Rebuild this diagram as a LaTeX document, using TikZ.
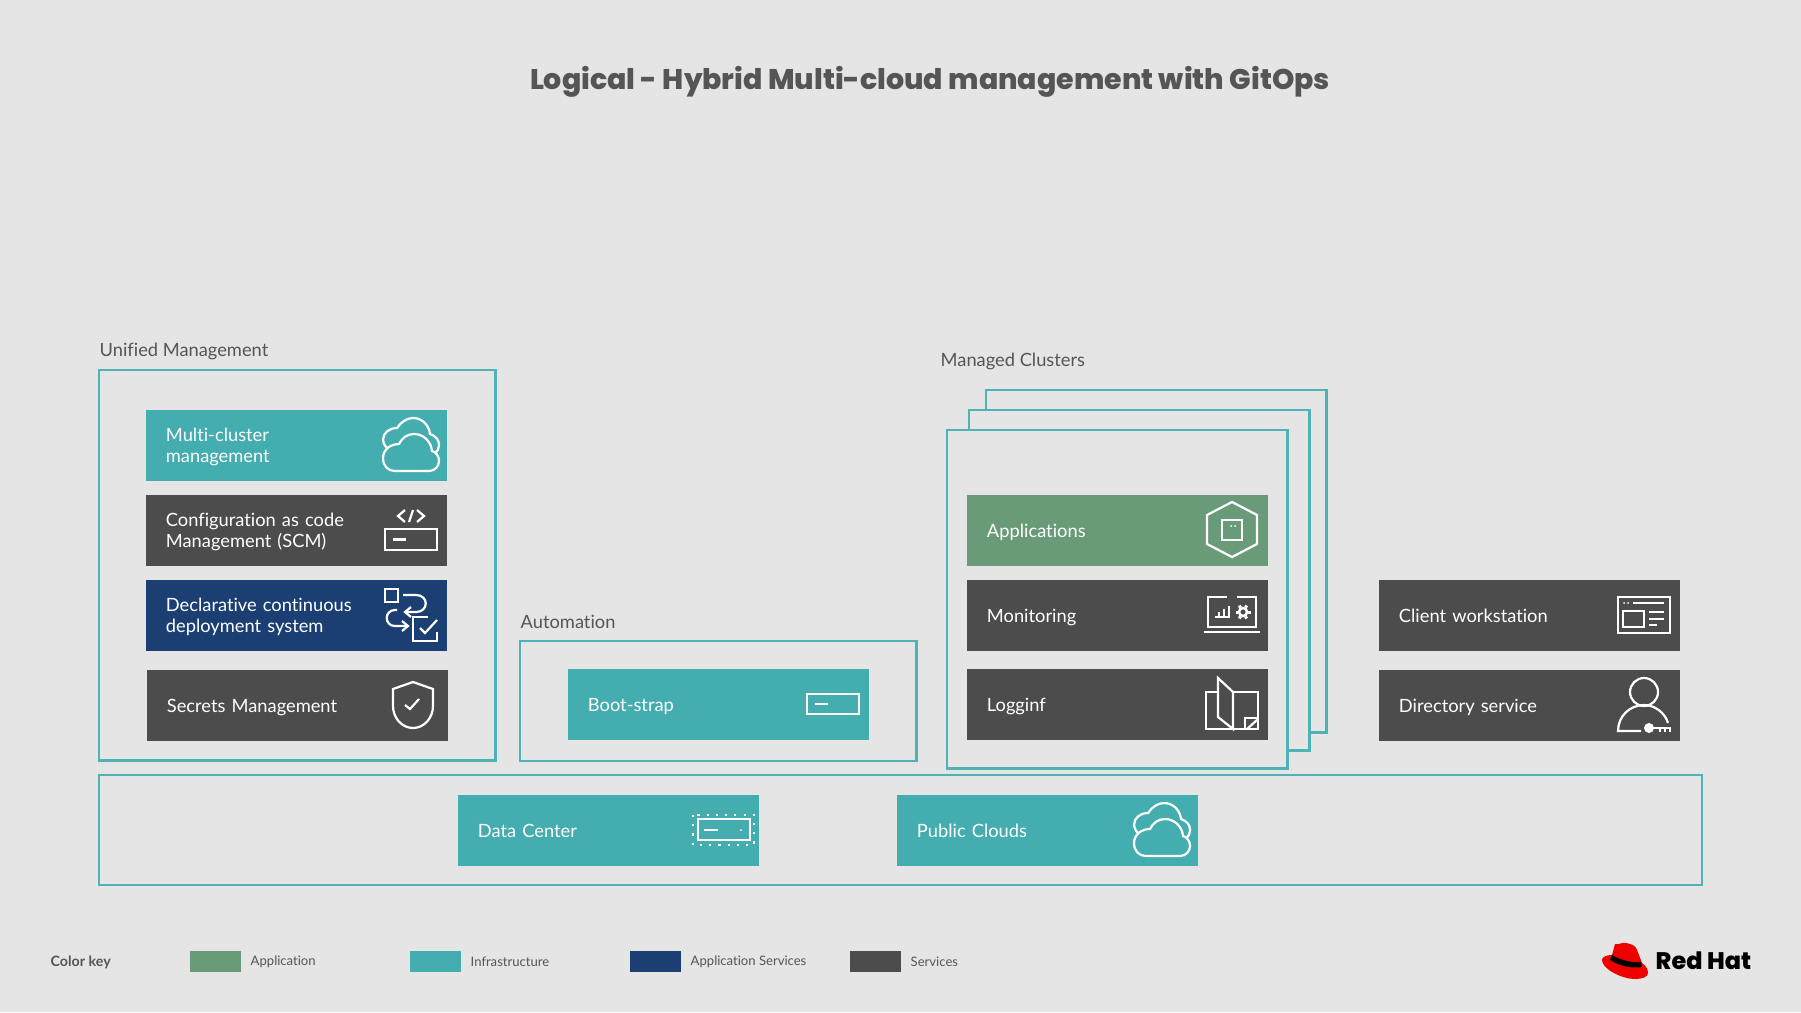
\documentclass[tikz,border=0pt]{standalone}
\usepackage{fontspec}
\setmainfont[Ligatures=NoCommon]{Lato}
\newfontfamily\headfont[BoldFont={Poppins ExtraBold}]{Poppins}
\usetikzlibrary{positioning}

\definecolor{bggray}{HTML}{E5E5E5}
\definecolor{infrateal}{HTML}{44ADB0}
\definecolor{framecol}{HTML}{4FB3B5}
\definecolor{appgreen}{HTML}{6A9B79}
\definecolor{appnavy}{HTML}{1B3F73}
\definecolor{svcgray}{HTML}{4C4C4C}
\definecolor{textgray}{HTML}{555555}
\definecolor{hatred}{HTML}{EE0000}

% cloud used by two of the blocks, origin is its upper left corner
\newcommand{\cloudicon}[2]{
    \begin{scope}[shift={(#1,#2)}]
        \draw[icon] (12,53) -- (46,53) .. controls (52,53) and (56,48) .. (56,43)
            .. controls (56,38) and (53,34) .. (49,33) .. controls (48,23) and (40,16) .. (31,16)
            .. controls (24,16) and (19,20) .. (16,26) .. controls (7,26) and (0,32) .. (0,40)
            .. controls (0,48) and (5,53) .. (12,53);
        \draw[icon] (4,30) .. controls (1,27) and (0,24) .. (0,22) .. controls (0,15) and (6,10) .. (14,10)
            .. controls (18,4) and (24,0) .. (30,0) .. controls (39,0) and (46,7) .. (47,16)
            .. controls (53,18) and (56,22) .. (56,27) .. controls (56,30) and (55,33) .. (52,35);
    \end{scope}
}

\begin{document}
\begin{tikzpicture}[x=0.01cm, y=-0.01cm]
    \tikzstyle{block}=[rectangle,
                       text=white,
                       align=left,
                       text width=2.61cm,
                       minimum height=0.71cm,
                       inner xsep=0.2cm,
                       inner ysep=0pt,
                       outer sep=0pt,
                       font=\fontsize{5.2}{5.97}\selectfont,
                       execute at begin node={\rule{0pt}{5.2pt}},
                       execute at end node={\rule[-1.5pt]{0pt}{1.5pt}}]
    \tikzstyle{tealblock}=[block, fill=infrateal]
    \tikzstyle{darkblock}=[block, fill=svcgray]
    \tikzstyle{navyblock}=[block, fill=appnavy]
    \tikzstyle{greenblock}=[block, fill=appgreen]
    \tikzstyle{group}=[rectangle, draw=framecol, fill=bggray, line width=0.027cm,
                       inner sep=0pt, outer sep=0pt, anchor=north west]
    \tikzstyle{grouplabel}=[inner sep=0pt, text=textgray, text height=0.15cm, text depth=0.05cm,
                       font=\fontsize{5.2}{6}\selectfont]
    \tikzstyle{swatch}=[rectangle, minimum width=0.51cm, minimum height=0.21cm,
                       inner sep=0pt, outer sep=0pt]
    \tikzstyle{keylabel}=[inner sep=0pt, text=textgray, font=\fontsize{3.72}{5}\selectfont]
    \tikzstyle{icon}=[draw=white, line width=0.022cm]

    \fill[bggray] (0,0) rectangle (1801,1012);
    \useasboundingbox (0,0) rectangle (1801,1012);

    \node[text=textgray, inner sep=0pt, font=\headfont\bfseries\fontsize{8.09}{10}\selectfont] (title) at (930,82)
        {Logical - Hybrid Multi-cloud management with GitOps};

    % groups
    \node[group, minimum width=3.96cm, minimum height=3.90cm] (unified) at (99,370) {};
    \node[group, minimum width=3.96cm, minimum height=1.20cm] (automation) at (520,641) {};
    \node[group, minimum width=3.40cm, minimum height=3.42cm] (clusterC) at (986,390) {};
    \node[group, minimum width=3.40cm, minimum height=3.40cm] (clusterB) at (969,410) {};
    \node[group, minimum width=3.40cm, minimum height=3.38cm] (clusterA) at (947,430) {};
    \node[group, minimum width=16.02cm, minimum height=1.10cm] (platform) at (99,775) {};

    \node[grouplabel, above right=0.08cm and 0cm of unified.north west] (unifiedlabel) {Unified Management};
    \node[grouplabel, above right=0.065cm and 0cm of automation.north west] (automationlabel) {Automation};
    \node[grouplabel, anchor=south west] (clusterlabel) at (940,372.5) {Managed Clusters};

    % blocks
    \node[tealblock] (multicluster) at (296.5,445.5) {Multi-cluster\\management};
    \node[darkblock, below=0.14cm of multicluster] (config) {Configuration as code\\Management (SCM)};
    \node[navyblock, below=0.14cm of config] (declarative) {Declarative continuous\\deployment system};
    \node[darkblock, below=0.19cm of declarative, xshift=0.01cm] (secrets) {Secrets Management};

    \node[tealblock] (bootstrap) at (718.5,704.5) {Boot-strap};

    \node[greenblock] (applications) at (1117.5,530.5) {Applications};
    \node[darkblock, below=0.14cm of applications] (monitoring) {Monitoring};
    \node[darkblock, below=0.18cm of monitoring] (logging) {Logginf};

    \node[darkblock] (client) at (1529.5,615.5) {Client workstation};
    \node[darkblock, below=0.19cm of client] (directory) {Directory service};

    \node[tealblock] (datacenter) at (608.5,830.5) {Data Center};
    \node[tealblock] (clouds) at (1047.5,830.5) {Public Clouds};

    % icons
    \cloudicon{383}{418}
    \cloudicon{1134}{803}

    % code + server
    \draw[icon] (385,529) rectangle (437,550);
    \draw[icon] (393,539.5) -- (406,539.5);
    \draw[icon] (405,510) -- (398,516) -- (405,522);
    \draw[icon] (413,510) -- (409,522);
    \draw[icon] (417,510) -- (424,516) -- (417,522);

    % deployment
    \draw[icon] (385,589) rectangle (398,602);
    \draw[icon] (403,595) -- (416,595) .. controls (429,595) and (429,612) .. (416,612) -- (406,612);
    \draw[icon] (411,607) -- (405,612) -- (411,617);
    \draw[icon] (397,610) -- (395,610) .. controls (384,610) and (384,626) .. (395,626) -- (407,626);
    \draw[icon] (402,621) -- (408,626) -- (402,631);
    \draw[icon] (428,617) -- (413,617) -- (413,641) -- (437,641) -- (437,632);
    \draw[icon] (420,628) -- (425,633) -- (437,620);

    % shield
    \draw[icon] (393,689) -- (413,682) -- (433,689) -- (433,706)
        .. controls (433,718) and (424,728) .. (413,728) .. controls (402,728) and (393,718) .. (393,706) -- cycle;
    \draw[icon] (405,705) -- (410,709) -- (419,699);

    % server of the boot-strap block
    \draw[icon] (807,694) rectangle (859,714);
    \draw[icon] (815,704) -- (828,704);

    % hexagon
    \draw[icon] (1232,502) -- (1257,515) -- (1257,544) -- (1232,557) -- (1207,544) -- (1207,515) -- cycle;
    \draw[icon] (1222,520) rectangle (1242,540);
    \fill[white] (1231,526) circle (1) (1235,526) circle (1);

    % laptop
    \draw[icon] (1227,597) -- (1208,597) -- (1208,627) -- (1256,627) -- (1256,597) -- (1237,597);
    \draw[icon] (1204,632) -- (1260,632);
    \draw[icon] (1215,617) -- (1230,617);
    \draw[icon] (1219,617) -- (1219,612) (1224,617) -- (1224,609) (1229,617) -- (1229,606);
    \draw[draw=white, line width=0.025cm] (1243,612) circle (4);
    \foreach \a in {0,60,...,300}
        \draw[draw=white, line width=0.03cm] (1243,612) ++(\a:5) -- ++(\a:2.5);

    % book
    \draw[icon] (1218,692) -- (1206,692) -- (1206,729) -- (1258,729) -- (1258,692) -- (1233,692);
    \draw[icon] (1218,678) -- (1233,692) -- (1233,729) -- (1218,717) -- cycle;
    \draw[icon] (1245,729) -- (1245,718) -- (1258,718);
    \draw[icon] (1258,719) -- (1247,729);

    % workstation
    \draw[icon] (1618,597) rectangle (1670,633);
    \fill[white] (1624,603) circle (1) (1628,603) circle (1);
    \draw[icon] (1633,603) -- (1664,603);
    \draw[icon] (1623,611) rectangle (1644,627);
    \draw[icon] (1649,612) -- (1664,612);
    \draw[icon] (1649,619) -- (1664,619);
    \draw[icon] (1649,625) -- (1657,625);

    % user + key
    \draw[icon] (1644,692) circle (14);
    \draw[icon] (1641,731) -- (1618,731) .. controls (1618,716) and (1630,705) .. (1644,705)
        .. controls (1655,705) and (1665,713) .. (1668,723);
    \fill[white] (1649,728) circle (5);
    \draw[icon] (1649,728) -- (1671,728);
    \draw[icon] (1660,728) -- (1660,732) (1665,728) -- (1665,732) (1670,728) -- (1670,732);

    % data center
    \draw[icon] (698,819) rectangle (750,840);
    \draw[icon] (704,830) -- (718,830);
    \fill[white] (741,830) circle (1);
    \draw[draw=white, line width=0.022cm, dotted] (693,815) rectangle (754,845);

    % color key
    \node[inner sep=0pt, anchor=west, text=textgray, font=\fontsize{4.05}{5}\selectfont\bfseries] (keytitle) at (50,962) {Color key};
    \node[swatch, fill=appgreen] (keyapp) at (215.5,961.5) {};
    \node[swatch, fill=infrateal] (keyinfra) at (435.5,961.5) {};
    \node[swatch, fill=appnavy] (keysvc) at (655.5,961.5) {};
    \node[swatch, fill=svcgray] (keydark) at (875.5,961.5) {};
    \node[keylabel, right=0.09cm of keyapp] (keyapplabel) {Application};
    \node[keylabel, right=0.09cm of keyinfra] (keyinfralabel) {Infrastructure};
    \node[keylabel, right=0.09cm of keysvc] (keysvclabel) {Application Services};
    \node[keylabel, right=0.09cm of keydark] (keydarklabel) {Services};

    % logo
    \fill[hatred] (1615,944) .. controls (1619,945) and (1622,942) .. (1626,943) .. controls (1632,944) and (1636,946) .. (1637,950)
        -- (1642,963) .. controls (1646,966) and (1648,969) .. (1648,973) .. controls (1648,977) and (1642,979) .. (1635,979)
        .. controls (1622,979) and (1602,969) .. (1602,960) .. controls (1602,957) and (1606,955) .. (1612,955) -- cycle;
    \fill[black] (1612,955) .. controls (1620,960) and (1632,963) .. (1641,962) -- (1642,967)
        .. controls (1630,969) and (1618,965) .. (1610,960) -- cycle;
    \node[inner sep=0pt, anchor=west, font=\headfont\bfseries\fontsize{6.8}{9}\selectfont] (logotext) at (1655,961) {Red Hat};
\end{tikzpicture}
\end{document}
